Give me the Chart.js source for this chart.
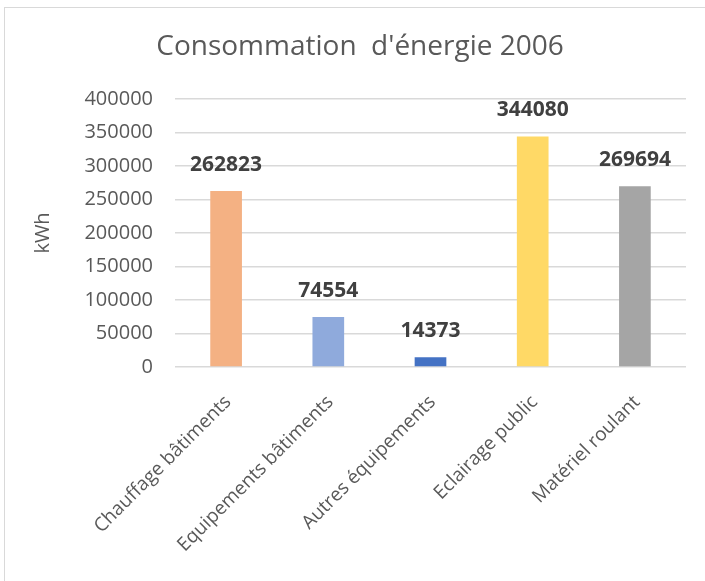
<!DOCTYPE html>
<html lang="fr">
<head>
    <meta charset="UTF-8">
    <title>Consommation d'énergie 2006</title>
    <script src="https://cdn.jsdelivr.net/npm/chart.js@4.4.1/dist/chart.umd.min.js"></script>
    <style>
        * {
            margin: 0;
            padding: 0;
            box-sizing: border-box;
        }

        body {
            background: #ffffff;
            overflow: hidden;
        }

        .wrap {
            position: relative;
            width: 705px;
            height: 581px;
        }

        /* outer frame, only left and top edges fall inside the page */
        .frame {
            position: absolute;
            left: 4px;
            top: 7px;
            width: 740px;
            height: 620px;
            border: 1.5px solid #d9d9d9;
        }

        canvas {
            position: absolute;
            left: 0;
            top: 0;
        }
    </style>
</head>
<body>
    <div class="wrap">
        <div class="frame"></div>
        <canvas id="energyChart" width="705" height="581"></canvas>
    </div>

    <script>
        // Données
        const chartTitle = "Consommation  d'énergie 2006";
        const categories = ['Chauffage bâtiments', 'Equipements bâtiments', 'Autres équipements', 'Eclairage public', 'Matériel roulant'];
        const consumption = [262823, 74554, 14373, 344080, 269694];
        const barColors = ['#F4B183', '#8FAADC', '#4472C4', '#FFD966', '#A5A5A5'];
        const yTickValues = [0, 50000, 100000, 150000, 200000, 250000, 300000, 350000, 400000];

        const textGray = '#595959';
        const gridGray = '#d9d9d9';

        // title drawn by hand so it can sit off the plot's center
        const chartHeading = {
            id: 'chartHeading',
            afterDraw(chart) {
                const ctx = chart.ctx;
                ctx.save();
                ctx.font = '28px "Open Sans"';
                ctx.fillStyle = textGray;
                ctx.textAlign = 'center';
                ctx.textBaseline = 'middle';
                ctx.fillText(chartTitle, 360, 47);
                ctx.restore();
            }
        };

        // value written above each bar
        const barValueLabels = {
            id: 'barValueLabels',
            afterDatasetsDraw(chart) {
                const ctx = chart.ctx;
                const meta = chart.getDatasetMeta(0);
                ctx.save();
                ctx.font = 'bold 21px "Open Sans"';
                ctx.fillStyle = '#404040';
                ctx.textAlign = 'center';
                ctx.textBaseline = 'middle';
                meta.data.forEach((bar, i) => {
                    ctx.fillText(String(consumption[i]), bar.x, bar.y - 26);
                });
                ctx.restore();
            }
        };

        new Chart(document.getElementById('energyChart'), {
            type: 'bar',
            data: {
                labels: categories,
                datasets: [{
                    data: consumption,
                    backgroundColor: barColors,
                    categoryPercentage: 1,
                    barPercentage: 0.31
                }]
            },
            options: {
                responsive: false,
                animation: false,
                layout: {
                    padding: { left: 0, right: 19, top: 99, bottom: 0 }
                },
                plugins: {
                    legend: { display: false },
                    tooltip: { enabled: false },
                    title: { display: false }
                },
                scales: {
                    x: {
                        grid: { display: false },
                        border: { display: false },
                        ticks: {
                            color: textGray,
                            font: { family: 'Open Sans', size: 19 },
                            minRotation: 45,
                            maxRotation: 45,
                            padding: 16,
                            labelOffset: 2
                        },
                        afterFit(scale) {
                            scale.height = 214;
                        }
                    },
                    y: {
                        min: 0,
                        max: 400000,
                        border: { display: false },
                        grid: {
                            color: gridGray,
                            lineWidth: 1.5,
                            drawTicks: false
                        },
                        ticks: {
                            color: textGray,
                            font: { family: 'Open Sans', size: 20 },
                            padding: 22,
                            callback: v => String(v)
                        },
                        afterBuildTicks(scale) {
                            scale.ticks = yTickValues.map(v => ({ value: v }));
                        },
                        title: {
                            display: true,
                            text: 'kWh',
                            color: textGray,
                            font: { family: 'Open Sans', size: 20 },
                            padding: { top: 31, bottom: 0 }
                        },
                        afterFit(scale) {
                            scale.width = 175;
                        }
                    }
                }
            },
            plugins: [chartHeading, barValueLabels]
        });
    </script>
</body>
</html>
